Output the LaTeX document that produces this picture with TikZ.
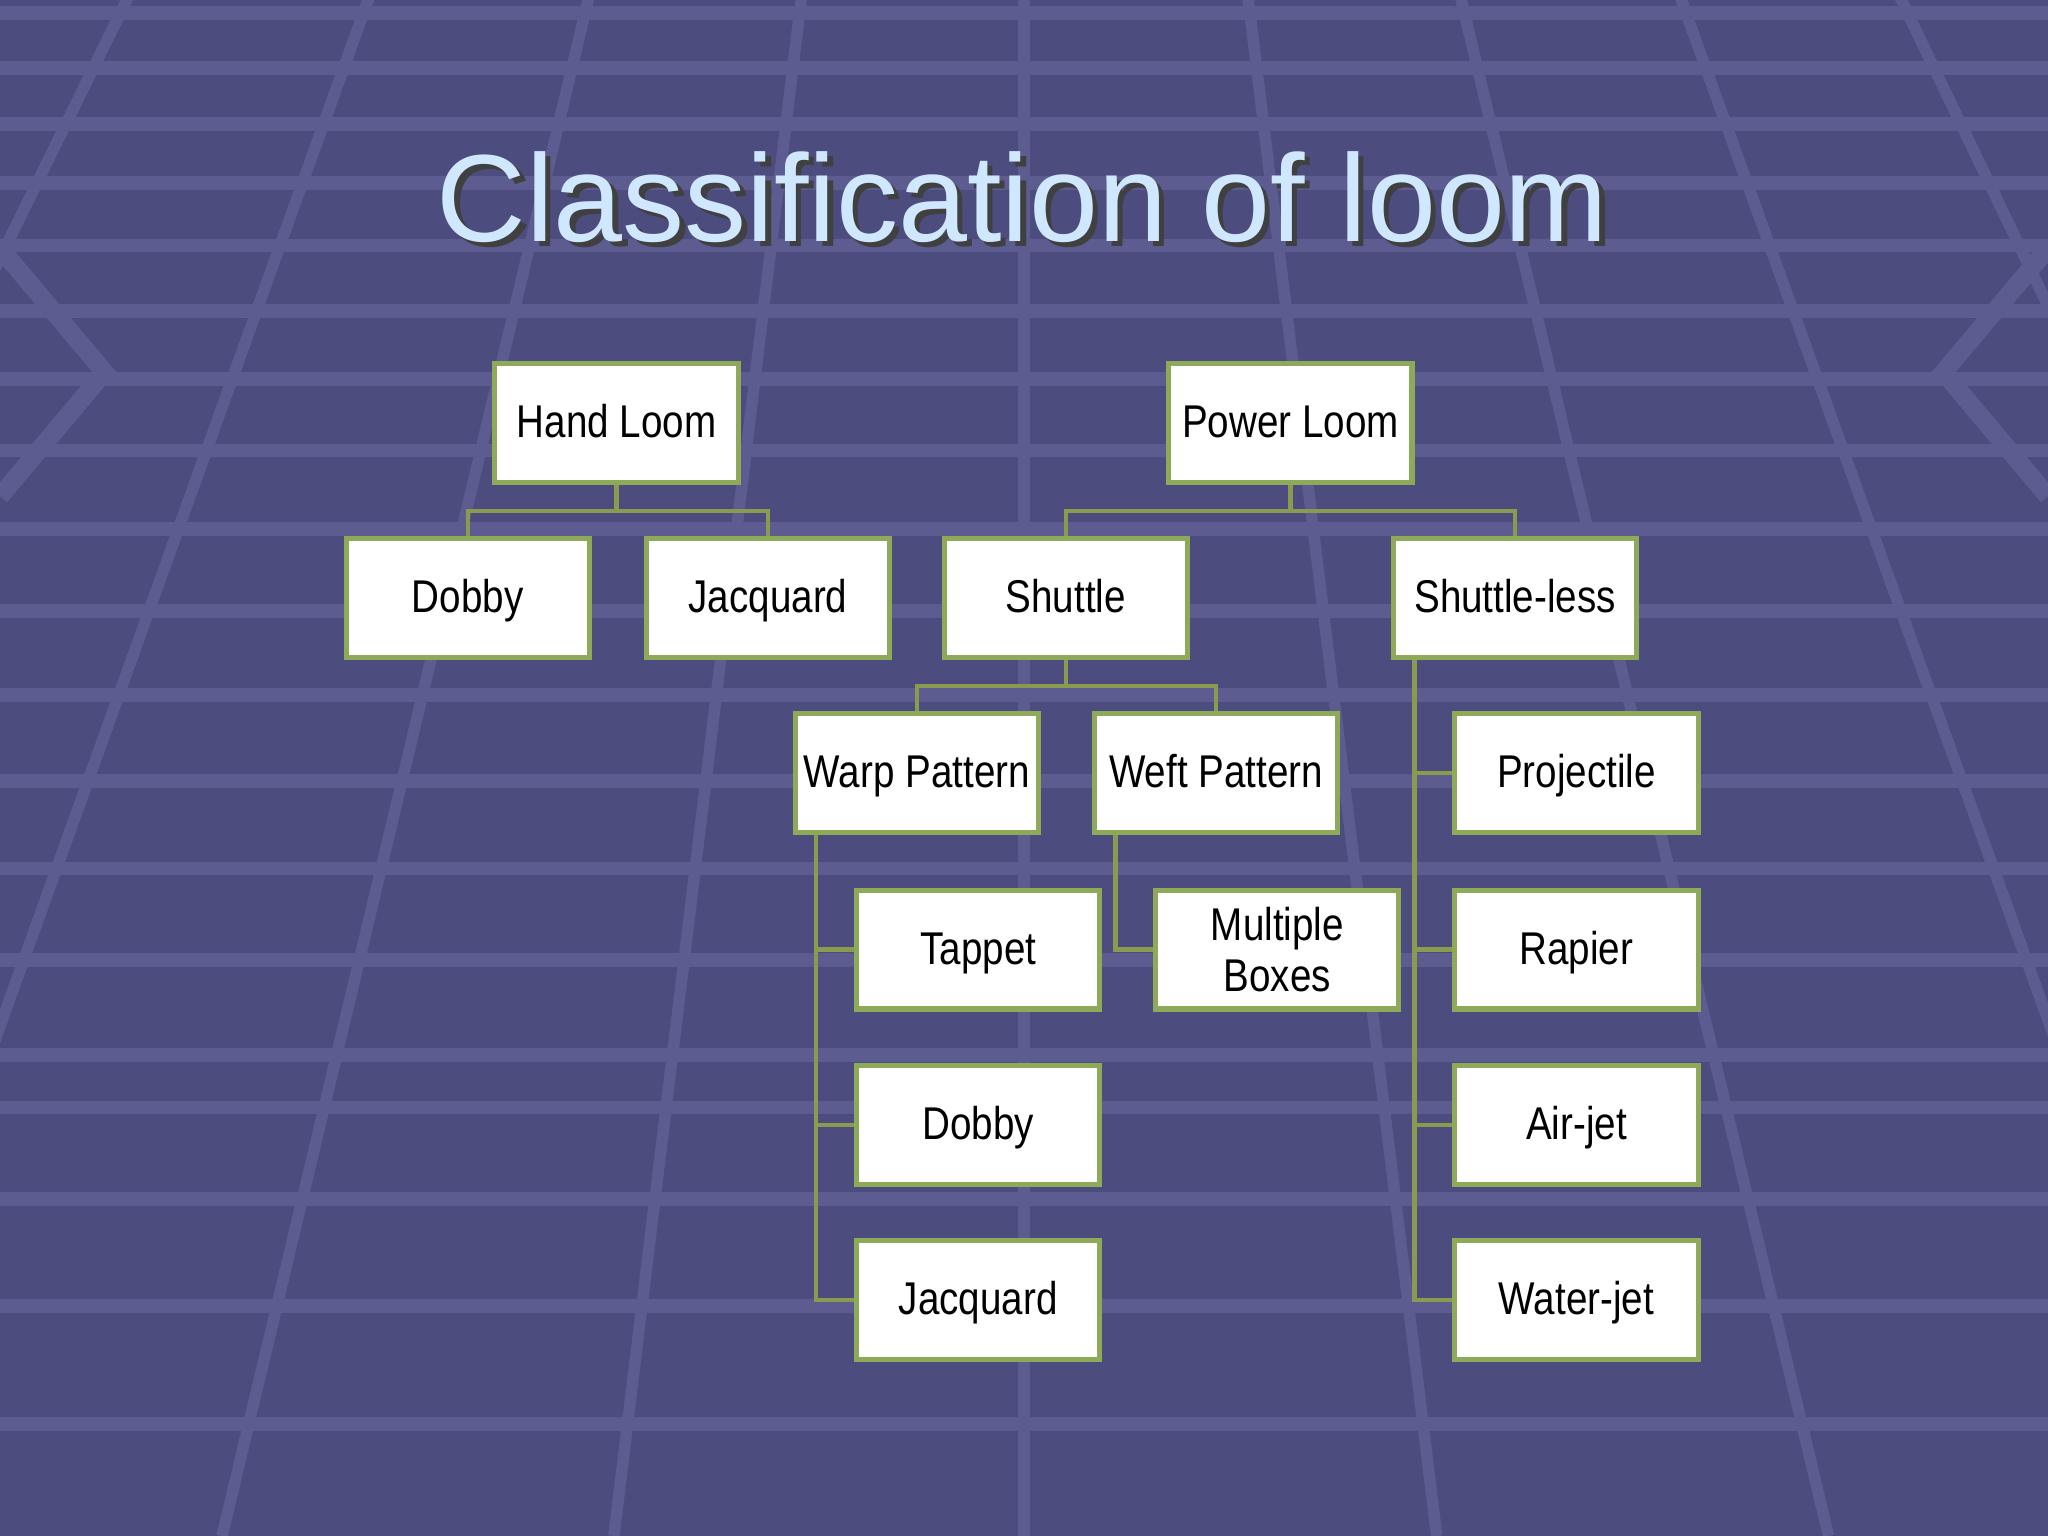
\documentclass[tikz,border=0pt]{standalone}
\usepackage{fontspec}
\setmainfont{Liberation Sans}
\newfontfamily\narrowfont[FakeStretch=0.84]{Liberation Sans}
\begin{document}
\begin{tikzpicture}[x=0.01cm,y=-0.01cm,
  boxbase/.style={draw=boxgreen,line width=1.1pt,fill=white,minimum width=1.86cm,minimum height=0.91cm,inner sep=1pt,align=center,font=\narrowfont\fontsize{10pt}{11pt}\selectfont},
  box/.style={boxbase,text height=1.6ex,text depth=0.4ex},
  conn/.style={draw=linegreen,line width=0.9pt}]
\definecolor{bg}{HTML}{4C4C7E}
\definecolor{gridc}{HTML}{5C5C90}
\definecolor{boxgreen}{HTML}{8CAA58}
\definecolor{linegreen}{HTML}{8A9A4E}
\definecolor{titlec}{HTML}{CFE8FF}
\useasboundingbox (0,0) rectangle (1568,1176);
\fill[bg] (0,0) rectangle (1568,1176);
\begin{scope}
\clip (0,0) rectangle (1568,1176);
\foreach \y in {10,52,95,140,188,238,290,345,405,468,532,598,665,735,808,848,918,1000,1090}
  \draw[gridc,line width=3pt] (0,\y) -- (1568,\y);
\foreach \b in {-2200,-1700,-1250,-850,-480,-140,170,470,784,1100,1400,1710,2020,2400,2800,3300,3800}
  \draw[gridc,line width=2.5pt] (784,-1400) -- (\b,1176);
\draw[gridc,line width=4pt] (0,190) -- (80,285) -- (0,380);
\draw[gridc,line width=4pt] (1568,190) -- (1488,285) -- (1568,380);
\end{scope}
\node[font=\fontsize{27pt}{30pt}\selectfont,text=black!75] at (787,155) {Classification of loom};
\node[font=\fontsize{27pt}{30pt}\selectfont,text=titlec] (title) at (783,151) {Classification of loom};
\node[box] (hand) at (472,324) {Hand Loom};
\node[box] (power) at (988,324) {Power Loom};
\node[box] (hdobby) at (358,458) {Dobby};
\node[box] (hjacq) at (588,458) {Jacquard};
\node[box] (shuttle) at (816,458) {Shuttle};
\node[box] (sless) at (1160,458) {Shuttle-less};
\node[box] (warp) at (702,592) {Warp Pattern};
\node[box] (weft) at (931,592) {Weft Pattern};
\node[box] (proj) at (1207,592) {Projectile};
\node[box] (tappet) at (749,727) {Tappet};
\node[boxbase] (mult) at (978,727) {Multiple\\Boxes};
\node[box] (rapier) at (1207,727) {Rapier};
\node[box] (wdobby) at (749,861) {Dobby};
\node[box] (airjet) at (1207,861) {Air-jet};
\node[box] (wjacq) at (749,995) {Jacquard};
\node[box] (water) at (1207,995) {Water-jet};
\draw[conn] (hand.south) -- ++(0,20) -| (hdobby.north);
\draw[conn] (hand.south) ++(0,20) -| (hjacq.north);
\draw[conn] (power.south) -- ++(0,20) -| (shuttle.north);
\draw[conn] (power.south) ++(0,20) -| (sless.north);
\draw[conn] (shuttle.south) -- ++(0,20) -| (warp.north);
\draw[conn] (shuttle.south) ++(0,20) -| (weft.north);
\draw[conn] (warp.south west) ++(18,0) |- (wjacq.west);
\draw[conn] (warp.south west) ++(18,0) |- (tappet.west);
\draw[conn] (warp.south west) ++(18,0) |- (wdobby.west);
\draw[conn] (weft.south west) ++(18,0) |- (mult.west);
\draw[conn] (sless.south west) ++(18,0) |- (water.west);
\draw[conn] (sless.south west) ++(18,0) |- (proj.west);
\draw[conn] (sless.south west) ++(18,0) |- (rapier.west);
\draw[conn] (sless.south west) ++(18,0) |- (airjet.west);
\end{tikzpicture}
\end{document}
